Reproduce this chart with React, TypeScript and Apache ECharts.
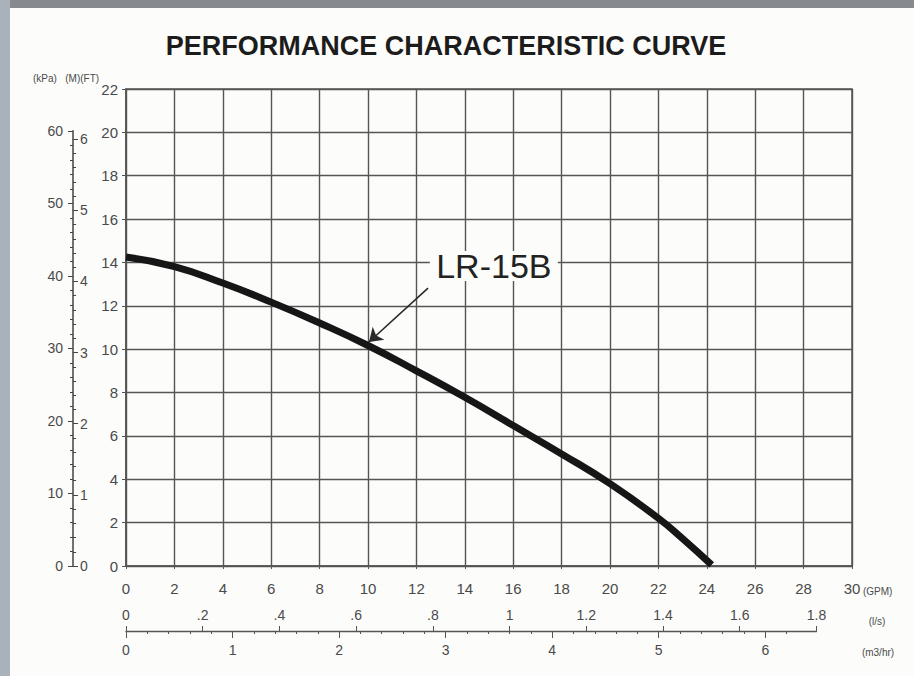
import React, { useEffect, useRef } from "react";
import * as echarts from "echarts";

// ---- data ----
const gpmFlow = [0, 2, 4, 6, 8, 10, 12, 14, 16, 18, 20, 22, 23, 24.2];
const headFt = [14.25, 13.81, 13.05, 12.17, 11.21, 10.17, 9.0, 7.78, 6.48, 5.17, 3.8, 2.2, 1.26, 0.05];
const modelName = "LR-15B";
const labelCoord = [15.2, 13.84];
const arrowFrom = [12.48, 12.82];
const arrowTo = [10.04, 10.33];
const chartTitle = "PERFORMANCE CHARACTERISTIC CURVE";

const gpmMax = 30;
const ftMax = 22;
const kpaMax = 60;
const mMax = 6;
const lsMax = 1.8;
const m3hrMax = 6.4;
const m3hrTicks = [0, 1, 2, 3, 4, 5, 6];

// unit conversions
const KPA_PER_FT = 2.98898;
const M_PER_FT = 0.3048;
const GPM_PER_LS = 15.8503;
const GPM_PER_M3HR = 4.40287;

const FONT = "'Liberation Sans', Arial, Helvetica, sans-serif";
const GRAY = "#4a4a4a";

export default function App() {
  const ref = useRef<HTMLDivElement>(null);

  useEffect(() => {
    if (!ref.current) return;
    const chart = echarts.init(ref.current, null, { renderer: "svg" });

    const P = { left: 126, top: 89, width: 726, height: 477 };
    const bottomY = P.top + P.height;
    const pxPerFt = P.height / ftMax;
    const pxPerGpm = P.width / gpmMax;
    const kpaH = (kpaMax / KPA_PER_FT) * pxPerFt;
    const mH = (mMax / M_PER_FT) * pxPerFt;
    const lsW = lsMax * GPM_PER_LS * pxPerGpm;
    const m3W = m3hrMax * GPM_PER_M3HR * pxPerGpm;
    const scaleX = 73;
    const subAxisY = 631;

    const labelStyle = { color: GRAY, fontSize: 15, fontFamily: FONT };
    const hiddenAxis = (gi: number) => ({
      type: "value",
      gridIndex: gi,
      show: false,
      min: 0,
      max: 1,
    });

    const option: any = {
      animation: false,
      backgroundColor: "#fcfcfb",
      grid: [
        { left: P.left, top: P.top, width: P.width, height: P.height, show: true, borderColor: "#555", borderWidth: 1.5 },
        { left: scaleX, top: bottomY - kpaH, width: 1, height: kpaH },
        { left: scaleX, top: bottomY - mH, width: 1, height: mH },
        { left: P.left, top: subAxisY - 10, width: lsW, height: 10 },
        { left: P.left, top: subAxisY - 10, width: m3W, height: 10 },
      ],
      xAxis: [
        {
          type: "value",
          gridIndex: 0,
          min: 0,
          max: gpmMax,
          interval: 2,
          axisLine: { show: true, lineStyle: { color: "#555", width: 1.5 } },
          axisTick: { show: true, length: 3, lineStyle: { color: "#555" } },
          axisLabel: { ...labelStyle, margin: 15 },
          splitLine: { show: true, lineStyle: { color: "#555", width: 1.4 } },
        },
        hiddenAxis(1),
        hiddenAxis(2),
        {
          type: "value",
          gridIndex: 3,
          min: 0,
          max: lsMax,
          interval: 0.2,
          position: "bottom",
          axisLine: { show: true, lineStyle: { color: "#555", width: 1.3 } },
          axisTick: { show: true, inside: true, length: 5, lineStyle: { color: "#555" } },
          minorTick: { show: false },
          axisLabel: {
            ...labelStyle,
            fontSize: 14,
            inside: true,
            margin: 9,
            formatter: (v: number) => {
              const s = String(Math.round(v * 10) / 10);
              return s.startsWith("0.") ? s.slice(1) : s;
            },
          },
          splitLine: { show: false },
        },
        {
          type: "value",
          gridIndex: 4,
          min: 0,
          max: m3hrMax,
          interval: 1,
          position: "bottom",
          axisLine: { show: false },
          axisTick: { show: true, length: 7, lineStyle: { color: "#555" }, customValues: m3hrTicks },
          minorTick: { show: true, splitNumber: 5, length: 3, lineStyle: { color: "#555" } },
          axisLabel: { ...labelStyle, fontSize: 14, margin: 12, customValues: m3hrTicks },
          splitLine: { show: false },
        },
      ],
      yAxis: [
        {
          type: "value",
          gridIndex: 0,
          min: 0,
          max: ftMax,
          interval: 2,
          axisLine: { show: true, lineStyle: { color: "#555", width: 1.5 } },
          axisTick: { show: true, length: 4, lineStyle: { color: "#555" } },
          axisLabel: { ...labelStyle, margin: 8 },
          splitLine: { show: true, lineStyle: { color: "#555", width: 1.4 } },
        },
        {
          type: "value",
          gridIndex: 1,
          min: 0,
          max: kpaMax,
          interval: 10,
          position: "left",
          axisLine: { show: true, lineStyle: { color: "#444", width: 1.5 } },
          axisTick: { show: true, length: 5, lineStyle: { color: "#444" } },
          minorTick: { show: true, splitNumber: 5, length: 3, lineStyle: { color: "#444" } },
          axisLabel: { ...labelStyle, fontSize: 14, margin: 10 },
          splitLine: { show: false },
        },
        {
          type: "value",
          gridIndex: 2,
          min: 0,
          max: mMax,
          interval: 1,
          position: "left",
          axisLine: { show: false },
          axisTick: { show: true, inside: true, length: 5, lineStyle: { color: "#444" } },
          minorTick: { show: true, splitNumber: 5, length: 3, lineStyle: { color: "#444" } },
          axisLabel: { ...labelStyle, fontSize: 14, inside: true, margin: 7 },
          splitLine: { show: false },
        },
        hiddenAxis(3),
        hiddenAxis(4),
      ],
      series: [
        {
          type: "line",
          xAxisIndex: 0,
          yAxisIndex: 0,
          data: gpmFlow.map((x, i) => [x, headFt[i]]),
          smooth: 0.5,
          showSymbol: false,
          symbol: "none",
          lineStyle: { color: "#161616", width: 7, cap: "butt" },
          z: 5,
          markLine: {
            silent: true,
            symbol: ["none", "arrow"],
            symbolSize: 13,
            label: { show: false },
            lineStyle: { color: "#2a2a2a", width: 1.6, type: "solid" },
            data: [[{ coord: arrowFrom }, { coord: arrowTo }]],
          },
          markPoint: {
            silent: true,
            symbol: "rect",
            symbolSize: [128, 30],
            itemStyle: { color: "#fcfcfb" },
            label: {
              show: true,
              position: "inside",
              formatter: modelName,
              color: "#222",
              fontSize: 34,
              fontFamily: FONT,
            },
            data: [{ coord: labelCoord }],
          },
        },
      ],
      graphic: [
        { type: "rect", left: 0, top: 0, shape: { width: 914, height: 8 }, style: { fill: "#86898d" }, silent: true },
        { type: "rect", left: 0, top: 0, shape: { width: 10, height: 676 }, style: { fill: "#a9b1bb" }, silent: true },
        {
          type: "text",
          x: 446,
          y: 46,
          style: {
            text: chartTitle,
            fill: "#1c1c1c",
            font: `bold 27px ${FONT}`,
            textAlign: "center",
            textVerticalAlign: "middle",
          },
        },
        {
          type: "text",
          x: 33,
          y: 78,
          style: { text: "(kPa)   (M)(FT)", fill: GRAY, font: `10px ${FONT}`, textVerticalAlign: "middle" },
        },
        {
          type: "text",
          x: 863,
          y: 591,
          style: { text: "(GPM)", fill: GRAY, font: `10px ${FONT}`, textVerticalAlign: "middle" },
        },
        {
          type: "text",
          x: 877,
          y: 621,
          style: { text: "(l/s)", fill: GRAY, font: `10px ${FONT}`, textAlign: "center", textVerticalAlign: "middle" },
        },
        {
          type: "text",
          x: 878,
          y: 652,
          style: { text: "(m3/hr)", fill: GRAY, font: `10px ${FONT}`, textAlign: "center", textVerticalAlign: "middle" },
        },
      ],
    };

    chart.setOption(option);
    return () => chart.dispose();
  }, []);

  return (
    <div
      ref={ref}
      style={{ position: "fixed", left: 0, top: 0, width: 914, height: 676 }}
    />
  );
}
